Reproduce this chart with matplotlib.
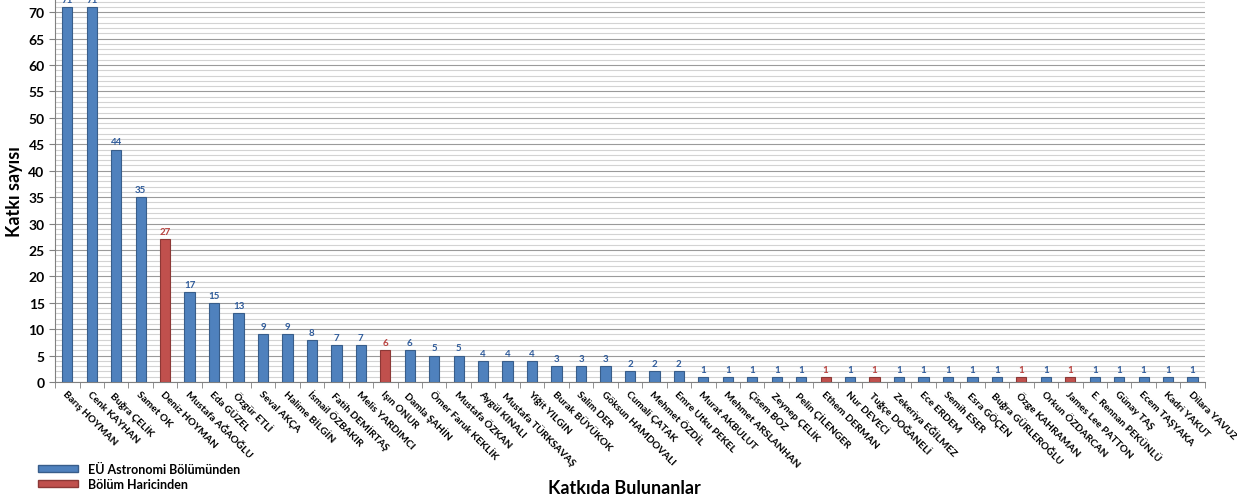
import numpy as np
import matplotlib.pyplot as plt
from matplotlib.patches import Patch
from matplotlib.ticker import MultipleLocator

plt.rcParams['font.family'] = ['Lato', 'DejaVu Sans']

names = ['Barış HOYMAN', 'Cenk KAYHAN', 'Buğra ÇELİK', 'Samet OK', 'Deniz HOYMAN',
         'Mustafa AĞAOĞLU', 'Eda GÜZEL', 'Özgür ETLİ', 'Seval AKÇA', 'Halime BİLGİN',
         'İsmail ÖZBAKIR', 'Fatih DEMİRTAŞ', 'Melis YARDIMCI', 'Işın ONUR', 'Damla ŞAHİN',
         'Ömer Faruk KEKLİK', 'Mustafa ÖZKAN', 'Aygül KINALI', 'Mustafa TÜRKSAVAŞ',
         'Yiğit YILGIN', 'Burak BÜYÜKOK', 'Salim DER', 'Göksun HAMDOVALI', 'Cumali ÇATAK',
         'Mehmet ÖZDİL', 'Emre Utku PEKEL', 'Murat AKBULUT', 'Mehmet ARSLANHAN',
         'Çisem BOZ', 'Zeynep ÇELİK', 'Pelin ÇİLENGER', 'Ethem DERMAN', 'Nur DEVECİ',
         'Tuğçe DOĞANELİ', 'Zekeriya EĞİLMEZ', 'Ece ERDEM', 'Semih ESER', 'Esra GÖÇEN',
         'Buğra GÜRLEROĞLU', 'Özge KAHRAMAN', 'Orkun ÖZDARCAN', 'James Lee PATTON',
         'E. Rennan PEKÜNLÜ', 'Günay TAŞ', 'Ecem TAŞYAKA', 'Kadri YAKUT', 'Dilara YAVUZ']
counts = [71, 71, 44, 35, 27, 17, 15, 13, 9, 9, 8, 7, 7, 6, 6, 5, 5, 4, 4, 4, 3, 3, 3,
          2, 2, 2, 1, 1, 1, 1, 1, 1, 1, 1, 1, 1, 1, 1, 1, 1, 1, 1, 1, 1, 1, 1, 1]
# True = from outside the department
outside = [False, False, False, False, True, False, False, False, False, False,
           False, False, False, True, False, False, False, False, False, False,
           False, False, False, False, False, False, False, False, False, False,
           False, True, False, True, False, False, False, False, False, True,
           False, True, False, False, False, False, False]
series_labels = ['EÜ Astronomi Bölümünden', 'Bölüm Haricinden']

BLUE, BLUE_EDGE, BLUE_TXT = '#4F81BD', '#385D8A', '#2F5B9A'
RED, RED_EDGE, RED_TXT = '#C0504D', '#8C3836', '#B8423F'

x = np.arange(len(names))
counts = np.array(counts)
outside = np.array(outside)

fig = plt.figure(figsize=(12.37, 5.02), dpi=100)
ax = fig.add_axes([0.0445, 0.237, 0.9295, 0.763])

ax.bar(x[~outside], counts[~outside], width=0.42, color=BLUE, edgecolor=BLUE_EDGE,
       linewidth=0.8, zorder=3)
ax.bar(x[outside], counts[outside], width=0.42, color=RED, edgecolor=RED_EDGE,
       linewidth=0.8, zorder=3)

for xi, v, o in zip(x, counts, outside):
    ax.text(xi, v + 0.6, str(v), ha='center', va='bottom', fontsize=7,
            fontweight='bold', color=RED_TXT if o else BLUE_TXT, zorder=4)

ax.set_xlim(-0.5, len(names) - 0.5)
ax.set_ylim(0, 72.5)
ax.yaxis.set_major_locator(MultipleLocator(5))
ax.yaxis.set_minor_locator(MultipleLocator(1))
ax.grid(axis='y', which='major', color='#9a9a9a', linewidth=0.8, zorder=0)
ax.grid(axis='y', which='minor', color='#d3d3d3', linewidth=0.8, zorder=0)

ax.set_xticks(x)
ax.set_xticks(np.arange(len(names) + 1) - 0.5, minor=True)
ax.set_xticklabels(names, rotation=-45, ha='left', va='top', rotation_mode='anchor',
                   fontsize=7.3, fontweight='bold')
ax.tick_params(axis='x', which='major', length=0, pad=5)
ax.tick_params(axis='x', which='minor', length=4, color='#808080')
ax.tick_params(axis='y', which='major', length=4, color='#808080', labelsize=10)
ax.tick_params(axis='y', which='minor', length=0)
for lbl in ax.get_yticklabels():
    lbl.set_fontweight('bold')

for s in ['top', 'right']:
    ax.spines[s].set_visible(False)
ax.spines['left'].set_color('#808080')
ax.spines['bottom'].set_color('#808080')

ax.set_ylabel('Katkı sayısı', fontsize=13, fontweight='bold', labelpad=4)
fig.text(0.505, 0.01, 'Katkıda Bulunanlar', ha='center', va='bottom',
         fontsize=13, fontweight='bold')

handles = [Patch(facecolor=BLUE, edgecolor=BLUE_EDGE),
           Patch(facecolor=RED, edgecolor=RED_EDGE)]
fig.legend(handles, series_labels, loc='lower left', bbox_to_anchor=(0.022, 0.0),
           frameon=False, handlelength=3.2, handleheight=0.45, labelspacing=0.25,
           prop={'size': 9, 'weight': 'bold'})

fig.savefig('out.png', dpi=100)
